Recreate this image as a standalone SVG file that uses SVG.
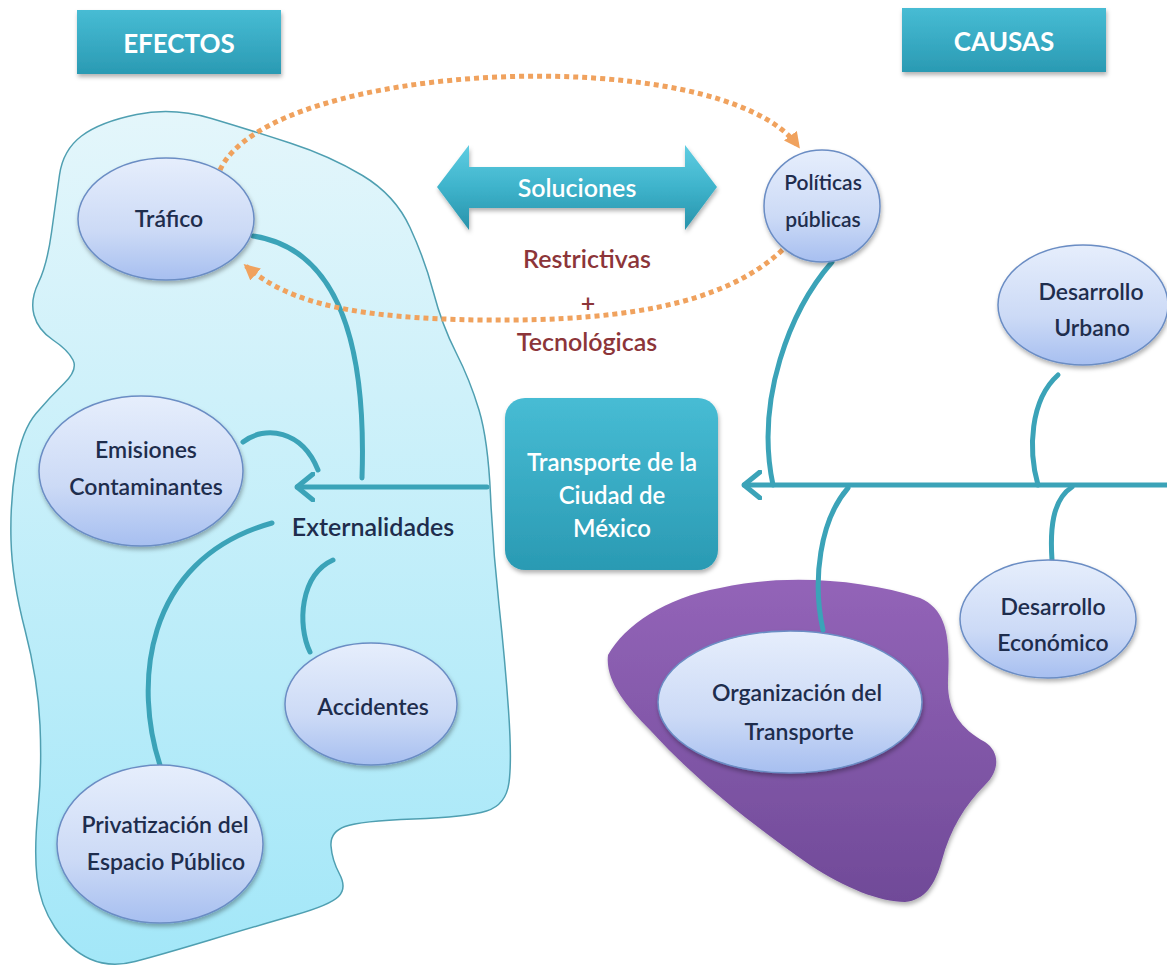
<svg xmlns="http://www.w3.org/2000/svg" width="1167" height="968" viewBox="0 0 1167 968">
<style>
.node-e{fill:url(#ellG);stroke:#6b8dc4;stroke-width:1.5;filter:url(#sh)}
.nt{font-family:Lato,'Liberation Sans',sans-serif;font-size:23px;font-weight:600;fill:#1e2d4d;text-anchor:middle}
.hdr{font-family:Lato,'Liberation Sans',sans-serif;font-size:26px;font-weight:bold;fill:#fff;text-anchor:middle}
.wt{font-family:Lato,'Liberation Sans',sans-serif;font-weight:600;fill:#fff;text-anchor:middle}
.rt{font-family:Lato,'Liberation Sans',sans-serif;font-size:25px;font-weight:600;fill:#8c3539;text-anchor:middle}
.con{fill:none;stroke:#3ba3b8;stroke-width:5;stroke-linecap:round}
.dot{fill:none;stroke:#f0a25e;stroke-width:5;stroke-dasharray:5 4}
</style>
<defs>
<linearGradient id="ellG" x1="0" y1="0" x2="0" y2="1">
<stop offset="0" stop-color="#e6eefc"/><stop offset="0.6" stop-color="#ccdaf6"/><stop offset="1" stop-color="#a7bff0"/>
</linearGradient>
<linearGradient id="blobG" x1="0" y1="0" x2="0" y2="1">
<stop offset="0" stop-color="#e4f6fb"/><stop offset="1" stop-color="#a3e7f8"/>
</linearGradient>
<linearGradient id="purG" x1="0" y1="0" x2="0" y2="1">
<stop offset="0" stop-color="#9364b8"/><stop offset="1" stop-color="#704a98"/>
</linearGradient>
<linearGradient id="tealG" x1="0" y1="0" x2="0" y2="1">
<stop offset="0" stop-color="#5fcde2"/><stop offset="0.5" stop-color="#3eb3cb"/><stop offset="1" stop-color="#2892aa"/>
</linearGradient>
<linearGradient id="boxG" x1="0" y1="0" x2="0" y2="1">
<stop offset="0" stop-color="#47bcd4"/><stop offset="1" stop-color="#2a9ab3"/>
</linearGradient>
<filter id="sh" x="-20%" y="-20%" width="140%" height="150%">
<feDropShadow dx="1" dy="3" stdDeviation="2" flood-color="#000" flood-opacity="0.3"/>
</filter>
<marker id="chev" viewBox="0 0 20 30" refX="18" refY="15" markerWidth="20" markerHeight="30" markerUnits="userSpaceOnUse" orient="auto">
<path d="M2,2 L18,15 L2,28" fill="none" stroke="#3ba3b8" stroke-width="5" stroke-linecap="round" stroke-linejoin="round"/>
</marker>
<marker id="oarr" viewBox="0 0 10 10" refX="8" refY="5" markerWidth="16" markerHeight="16" markerUnits="userSpaceOnUse" orient="auto">
<path d="M0,0 L10,5 L0,10 Z" fill="#f0a25e"/>
</marker>
</defs>

<rect width="1167" height="968" fill="#fff"/>

<g id="efectos-region">
<path d="M136.5,114.5 Q173,107 211.5,118.5 Q250,130 290,143 Q330,156 362.5,175.5 Q395,195 410,227.5 Q425,260 433.5,292.5 Q442,325 456,352.5 Q470,380 479,410 Q488,440 490.5,495 Q493,550 499,605 Q505,660 508.5,710 Q512,760 509,782.5 Q506,805 486.5,811 Q467,817 413.5,819 Q360,821 345,826.5 Q330,832 331,846 Q332,860 339.5,874 Q347,888 338.5,896.5 Q330,905 295,915 Q260,925 210,940 Q160,955 135,961.5 Q110,968 90,959 Q70,950 55,927.5 Q40,905 37,877.5 Q34,850 38,810 Q42,770 40,725 Q38,680 25,630 Q12,580 11,540 Q10,500 16,465 Q22,430 36,413.5 Q50,397 64,383.5 Q78,370 73,360 Q68,350 53,340 Q38,330 34,315 Q30,300 38.5,282.5 Q47,265 51.5,232.5 Q56,200 59.5,175 Q63,150 81.5,136 Q100,122 136.5,114.5 Z" fill="url(#blobG)" stroke="#4f9fb1" stroke-width="1.5"/>
</g>

<g id="organizacion-region">
<path d="M608,655 C625,625 665,598 720,588 C780,574 860,578 920,598 C948,610 950,640 948,680 C947,710 960,728 985,742 C1000,752 1000,770 985,785 C965,805 950,830 942,860 C935,885 925,900 905,902 C880,902 845,888 810,865 C760,830 700,785 650,730 C625,705 605,680 608,655 Z" fill="url(#purG)" filter="url(#sh)"/>
</g>

<g id="efectos">
<rect x="77" y="10" width="204" height="64" fill="url(#boxG)" filter="url(#sh)"/>
<text class="hdr" x="179" y="53">EFECTOS</text>
</g>
<g id="causas">
<rect x="902" y="8" width="204" height="64" fill="url(#boxG)" filter="url(#sh)"/>
<text class="hdr" x="1004" y="51">CAUSAS</text>
</g>

<g id="connectors">
<path class="con" d="M487,487 L297,487" marker-end="url(#chev)"/>
<path class="con" d="M362,478 C366,360 345,250 253,236"/>
<path class="con" d="M243,442 C265,425 302,430 318,470"/>
<path class="con" d="M160,765 C135,690 140,560 272,523"/>
<path class="con" d="M333,560 C300,575 297,625 310,652"/>
<path class="con" d="M1167,485 L744,485" marker-end="url(#chev)"/>
<path class="con" d="M832,262 C790,310 755,400 773,485"/>
<path class="con" d="M1058,375 C1030,400 1028,450 1038,485"/>
<path class="con" d="M1072,487 C1052,500 1050,530 1052,560"/>
<path class="con" d="M848,488 C820,520 812,580 823,630"/>
<path class="dot" d="M220,170 C270,60 720,40 798,146" marker-end="url(#oarr)"/>
<path class="dot" d="M795,237 C740,300 640,322 480,320 C360,318 290,305 246,266" marker-end="url(#oarr)"/>
</g>

<g id="soluciones">
<polygon points="437,187 469,145 469,167 685,167 685,145 717,187 685,230 685,208 469,208 469,230" fill="url(#tealG)" filter="url(#sh)"/>
<text class="wt" x="577" y="197" font-size="25">Soluciones</text>
</g>
<g id="soluciones-tipo">
<text class="rt" x="587" y="268">Restrictivas</text>
<text class="rt" x="588" y="312">+</text>
<text class="rt" x="587" y="351">Tecnológicas</text>
</g>

<g id="transporte">
<rect x="505" y="398" width="213" height="172" rx="20" fill="url(#boxG)" filter="url(#sh)"/>
<text class="wt" font-size="24"><tspan x="612" y="471">Transporte de la</tspan><tspan x="612" y="504">Ciudad de</tspan><tspan x="612" y="537">México</tspan></text>
</g>

<g id="trafico">
<ellipse class="node-e" cx="166" cy="219" rx="88" ry="61"/>
<text class="nt" x="169" y="227">Tráfico</text>
</g>
<g id="emisiones">
<ellipse class="node-e" cx="141" cy="471" rx="102" ry="75"/>
<text class="nt"><tspan x="146" y="458">Emisiones</tspan><tspan x="146" y="495">Contaminantes</tspan></text>
</g>
<g id="externalidades">
<text class="nt" x="373" y="536" style="font-size:25px">Externalidades</text>
</g>
<g id="accidentes">
<ellipse class="node-e" cx="371" cy="704" rx="86" ry="61"/>
<text class="nt" x="373" y="715">Accidentes</text>
</g>
<g id="privatizacion">
<ellipse class="node-e" cx="160" cy="844" rx="103" ry="79"/>
<text class="nt"><tspan x="165" y="833">Privatización del</tspan><tspan x="166" y="870">Espacio Público</tspan></text>
</g>
<g id="politicas">
<ellipse class="node-e" cx="822" cy="206" rx="58" ry="56"/>
<text class="nt" style="font-size:21px"><tspan x="823" y="190">Políticas</tspan><tspan x="823" y="227">públicas</tspan></text>
</g>
<g id="desarrollo-urbano">
<ellipse class="node-e" cx="1083" cy="305" rx="85" ry="60"/>
<text class="nt"><tspan x="1091" y="300">Desarrollo</tspan><tspan x="1092" y="336">Urbano</tspan></text>
</g>
<g id="desarrollo-economico">
<ellipse class="node-e" cx="1048" cy="619" rx="88" ry="59"/>
<text class="nt"><tspan x="1053" y="615">Desarrollo</tspan><tspan x="1053" y="651">Económico</tspan></text>
</g>
<g id="organizacion">
<ellipse class="node-e" cx="790" cy="702" rx="132" ry="71"/>
<text class="nt"><tspan x="797" y="701">Organización del</tspan><tspan x="799" y="740">Transporte</tspan></text>
</g>
</svg>
